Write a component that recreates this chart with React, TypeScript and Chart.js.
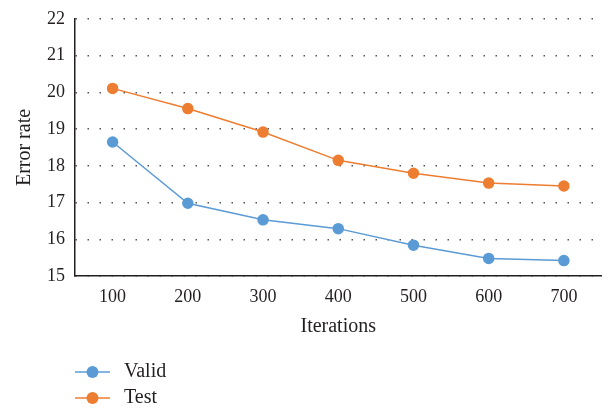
import { useEffect, useRef } from "react";
import { Chart, registerables } from "chart.js";

Chart.register(...registerables);

const iterations = ["100", "200", "300", "400", "500", "600", "700"];
const validErrors = [18.65, 16.98, 16.53, 16.29, 15.84, 15.48, 15.42];
const testErrors = [20.11, 19.56, 18.92, 18.15, 17.8, 17.53, 17.45];
const seriesNames = ["Valid", "Test"];
const seriesColors = ["#5b9bd5", "#ed7d31"];
const yMin = 15;
const yMax = 22;

const FONT = "'Liberation Serif', 'Times New Roman', serif";
const INK = "#231f20";

// Legend stacked vertically under the plot, each entry a short line with a dot.
const stackedLegend = {
  id: "stackedLegend",
  afterDraw(chart: any) {
    const { ctx, chartArea } = chart;
    const x0 = chartArea.left;
    chart.data.datasets.forEach((ds: any, i: number) => {
      const y = chart.height - 42 + i * 26;
      ctx.save();
      ctx.strokeStyle = ds.borderColor;
      ctx.lineWidth = 1.5;
      ctx.beginPath();
      ctx.moveTo(x0, y);
      ctx.lineTo(x0 + 35, y);
      ctx.stroke();
      ctx.fillStyle = ds.backgroundColor;
      ctx.beginPath();
      ctx.arc(x0 + 17.5, y, 6, 0, Math.PI * 2);
      ctx.fill();
      ctx.fillStyle = INK;
      ctx.font = `20px ${FONT}`;
      ctx.textBaseline = "middle";
      ctx.textAlign = "left";
      ctx.fillText(ds.label, x0 + 49, y);
      ctx.restore();
    });
  },
};

export default function App() {
  const canvasRef = useRef<HTMLCanvasElement | null>(null);

  useEffect(() => {
    const canvas = canvasRef.current;
    if (!canvas) return;
    const chart = new Chart(canvas, {
      type: "line",
      data: {
        labels: iterations,
        datasets: [validErrors, testErrors].map((values, i) => ({
          label: seriesNames[i],
          data: values,
          borderColor: seriesColors[i],
          backgroundColor: seriesColors[i],
          pointBackgroundColor: seriesColors[i],
          pointBorderColor: seriesColors[i],
          borderWidth: 1.5,
          pointRadius: 5,
          pointHoverRadius: 5,
          tension: 0,
        })),
      },
      options: {
        animation: false,
        responsive: false,
        layout: { padding: { top: 18, right: 4, bottom: 68, left: 0 } },
        plugins: {
          legend: { display: false },
          tooltip: { enabled: false },
        },
        scales: {
          x: {
            offset: true,
            grid: { display: false, drawTicks: false },
            border: { display: true, color: INK, width: 1.5 },
            ticks: { color: INK, font: { family: FONT, size: 18 }, padding: 10 },
            title: {
              display: true,
              text: "Iterations",
              color: INK,
              font: { family: FONT, size: 20 },
              padding: { top: 0, bottom: 7 },
            },
            afterFit: (s: any) => {
              s.height = 70;
            },
          },
          y: {
            min: yMin,
            max: yMax,
            ticks: {
              stepSize: 1,
              color: INK,
              font: { family: FONT, size: 18, lineHeight: 1 },
              padding: 10,
            },
            grid: { display: true, drawTicks: false, color: "#555", lineWidth: 1.5 },
            border: { display: true, color: INK, width: 1.5, dash: [1.5, 10.5] },
            title: {
              display: true,
              text: "Error rate",
              color: INK,
              font: { family: FONT, size: 20 },
              padding: { top: 13, bottom: 0 },
            },
            afterFit: (s: any) => {
              s.width = 75;
            },
          },
        },
      },
      plugins: [stackedLegend],
    });
    return () => chart.destroy();
  }, []);

  return (
    <div style={{ position: "absolute", left: 0, top: 0, width: 608, height: 414, background: "#fff" }}>
      <canvas ref={canvasRef} width={608} height={414} />
    </div>
  );
}
